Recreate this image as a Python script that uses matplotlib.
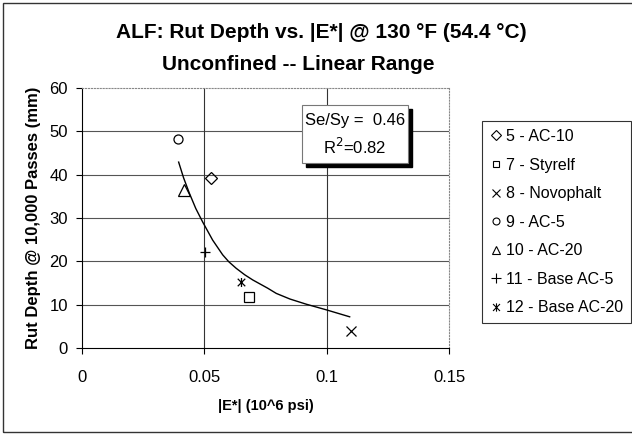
import matplotlib
matplotlib.use("Agg")
import matplotlib.pyplot as plt
from matplotlib.path import Path
from matplotlib.lines import Line2D
from matplotlib.patches import Rectangle

plt.rcParams['font.family'] = ['Liberation Sans', 'DejaVu Sans']

labels = ["5 - AC-10", "7 - Styrelf", "8 - Novophalt", "9 - AC-5",
          "10 - AC-20", "11 - Base AC-5", "12 - Base AC-20"]
e_star = [0.0527, 0.0683, 0.110, 0.0391, 0.0415, 0.0501, 0.0648]
rut = [39.3, 11.8, 4.0, 48.2, 36.5, 22.1, 15.2]

# power trendline as drawn in the original
trend_x = [0.0395, 0.0415, 0.0439, 0.0465, 0.0493, 0.0534, 0.0575, 0.0600, 0.0630,
           0.0665, 0.0698, 0.0759, 0.0794, 0.0850, 0.0917, 0.0999, 0.1094]
trend_y = [42.9, 39.3, 35.7, 32.2, 29.1, 24.9, 21.5, 19.9, 18.4,
           16.9, 15.7, 13.8, 12.6, 11.3, 10.1, 8.8, 7.2]

# excel-style star marker: x with a vertical bar
star = Path([(-1, -1), (1, 1), (-1, 1), (1, -1), (0, -1.2), (0, 1.2)],
            [Path.MOVETO, Path.LINETO, Path.MOVETO, Path.LINETO, Path.MOVETO, Path.LINETO])
markers = ["D", "s", "x", "o", "^", "+", star]
sizes = [6, 6.5, 7, 6.5, 8, 7, 6.5]
leg_sizes = [5, 5, 6, 5, 6, 7, 6]

fig = plt.figure(figsize=(6.32, 4.36), dpi=100)
ax = fig.add_axes([82 / 632, (436 - 348) / 436, (449 - 82) / 632, (348 - 88) / 436])

ax.plot(trend_x, trend_y, color="black", lw=1.0, zorder=3)

for x, y, m, s in zip(e_star, rut, markers, sizes):
    ax.plot([x], [y], linestyle="none", marker=m, markersize=s,
            markerfacecolor="none", markeredgecolor="black", markeredgewidth=0.9, zorder=4)

ax.set_xlim(0, 0.15)
ax.set_ylim(0, 60)
ax.set_xticks([0, 0.05, 0.1, 0.15])
ax.set_xticklabels(["0", "0.05", "0.1", "0.15"])
ax.set_yticks(range(0, 61, 10))
ax.tick_params(axis="both", labelsize=12, length=4, direction="out", color="black")
ax.tick_params(axis="x", pad=12)
ax.tick_params(axis="y", pad=6)

for yv in range(10, 60, 10):
    ax.axhline(yv, color="#555555", lw=0.8, zorder=1)
for xv in [0.05, 0.1]:
    ax.axvline(xv, color="#333333", lw=0.8, zorder=1)

for side in ["top", "right"]:
    ax.spines[side].set_color("#888888")
    ax.spines[side].set_linestyle(":")
    ax.spines[side].set_linewidth(0.8)
for side in ["left", "bottom"]:
    ax.spines[side].set_color("black")
    ax.spines[side].set_linewidth(0.8)

ax.set_xlabel("|E*| (10^6 psi)", fontsize=10.5, fontweight="bold", labelpad=10)
ax.set_ylabel("Rut Depth @ 10,000 Passes (mm)", fontsize=12, fontweight="bold", labelpad=6)

fig.text(321 / 632, 1 - 32 / 436, "ALF: Rut Depth vs. |E*| @ 130 °F (54.4 °C)",
         ha="center", va="center", fontsize=15, fontweight="bold")
fig.text(298 / 632, 1 - 65 / 436, "Unconfined -- Linear Range",
         ha="center", va="center", fontsize=15, fontweight="bold")

# stats box with shadow
bx0, bx1, by0, by1 = 302 / 632, 408 / 632, 1 - 163 / 436, 1 - 105 / 436
fig.patches.append(Rectangle((bx0 + 4 / 632, by0 - 4 / 436), bx1 - bx0, by1 - by0,
                             transform=fig.transFigure, facecolor="black", edgecolor="black", zorder=5))
fig.patches.append(Rectangle((bx0, by0), bx1 - bx0, by1 - by0, transform=fig.transFigure,
                             facecolor="white", edgecolor="#777777", lw=0.8, zorder=6))
fig.text((bx0 + bx1) / 2, 1 - 120 / 436, "Se/Sy =  0.46", ha="center", va="center",
         fontsize=12, zorder=7)
fig.text((bx0 + bx1) / 2, 1 - 147 / 436, "R$^2$=0.82", ha="center", va="center",
         fontsize=12, zorder=7)

handles = [Line2D([], [], linestyle="none", marker=m, markersize=s, markerfacecolor="none",
                  markeredgecolor="black", markeredgewidth=0.8)
           for m, s in zip(markers, leg_sizes)]
leg = fig.legend(handles, labels, loc="upper left", bbox_to_anchor=(482 / 632, 1 - 121 / 436),
                 frameon=True, fancybox=False, fontsize=11.5, handlelength=0.7,
                 handletextpad=0.3, labelspacing=0.85, borderpad=0.5, borderaxespad=0)
leg.get_frame().set_edgecolor("black")
leg.get_frame().set_linewidth(0.8)

# outer chart border
fig.patches.append(Rectangle((3 / 632, 4 / 436), 1.1, 1 - 7 / 436, transform=fig.transFigure,
                             facecolor="none", edgecolor="#333333", lw=1.0, zorder=0))

fig.savefig("out.png", dpi=100)
